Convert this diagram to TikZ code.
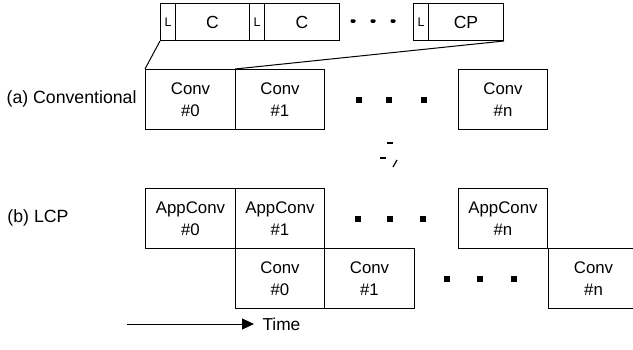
\documentclass[tikz,border=0pt]{standalone}
\usepackage{fontspec}
\setmainfont{Liberation Sans}
\usetikzlibrary{arrows.meta}
\begin{document}
\begin{tikzpicture}[x=1pt,y=-1pt,line width=1pt,
  box/.style={draw,inner sep=0pt,minimum width=90pt,minimum height=60pt,anchor=north west,align=center,font=\fontsize{16.8}{22}\selectfont},
  lbox/.style={draw,inner sep=0pt,minimum width=15pt,minimum height=37pt,anchor=north west,font=\fontsize{12.5}{14}\selectfont},
  cbox/.style={draw,inner sep=0pt,minimum width=75pt,minimum height=37pt,anchor=north west,font=\fontsize{17.5}{19}\selectfont},
  sq/.style={fill,inner sep=0pt,minimum width=6.5pt,minimum height=6.5pt},
  sdot/.style={fill,inner sep=0pt,minimum width=5pt,minimum height=3.5pt,rounded corners=1.2pt},
  lab/.style={font=\fontsize{17.7}{21}\selectfont,inner sep=0pt}]
\useasboundingbox (0,0) rectangle (633,349);
% top row
\node[lbox] (l1) at (160,3) {L};
\node[cbox,minimum width=74pt] (c1) at (175,3) {C};
\node[lbox] (l2) at (249,3) {L};
\node[cbox] (c2) at (264,3) {C};
\node[sdot] (td1) at (353,21) {};
\node[sdot] (td2) at (373,21) {};
\node[sdot] (td3) at (393,21) {};
\node[lbox] (l3) at (413,3) {L};
\node[cbox] (cp) at (428,3) {CP};
% (a)
\node[lab,anchor=east] (la) at (137,99) {(a) Conventional};
\node[box] (a0) at (145,69) {Conv\\\#0};
\node[box,minimum width=89pt] (a1) at (235,69) {Conv\\\#1};
\node[sq] (ad1) at (359,100) {};
\node[sq] (ad2) at (389,100) {};
\node[sq] (ad3) at (424,100) {};
\node[box,minimum width=89pt] (an) at (458,69) {Conv\\\#n};
\draw (l1.south west) -- (a0.north west);
\draw (cp.south east) -- (a1.north west);
% stray marks
\draw[line width=1.4pt] (387,143) -- (393,143);
\draw[line width=1.4pt] (380,158) -- (386,158);
\draw[line width=1.2pt] (397,160) -- (393,167);
% (b)
\node[lab,anchor=west] (lb) at (7,218) {(b) LCP};
\node[box] (b0) at (145,188) {AppConv\\\#0};
\node[box,minimum width=89pt] (b1) at (235,188) {AppConv\\\#1};
\node[sq] (bd1) at (358,219) {};
\node[sq] (bd2) at (390,219) {};
\node[sq] (bd3) at (423,219) {};
\node[box,minimum width=89pt] (bn) at (458,188) {AppConv\\\#n};
\node[box,minimum width=89pt] (c0) at (235,248) {Conv\\\#0};
\node[box] (c1b) at (324,248) {Conv\\\#1};
\node[sq] (cd1) at (447,279) {};
\node[sq] (cd2) at (480,279) {};
\node[sq] (cd3) at (514,279) {};
\node[box] (cn) at (548,248) {Conv\\\#n};
% time
\coordinate (ts) at (127,324);
\node[lab,anchor=west,font=\fontsize{17.3}{21}\selectfont] (time) at (262,324) {Time};
\draw[-{Triangle[length=12pt,width=11pt]},shorten >=8pt] (ts) -- (time.west);
\end{tikzpicture}
\end{document}
